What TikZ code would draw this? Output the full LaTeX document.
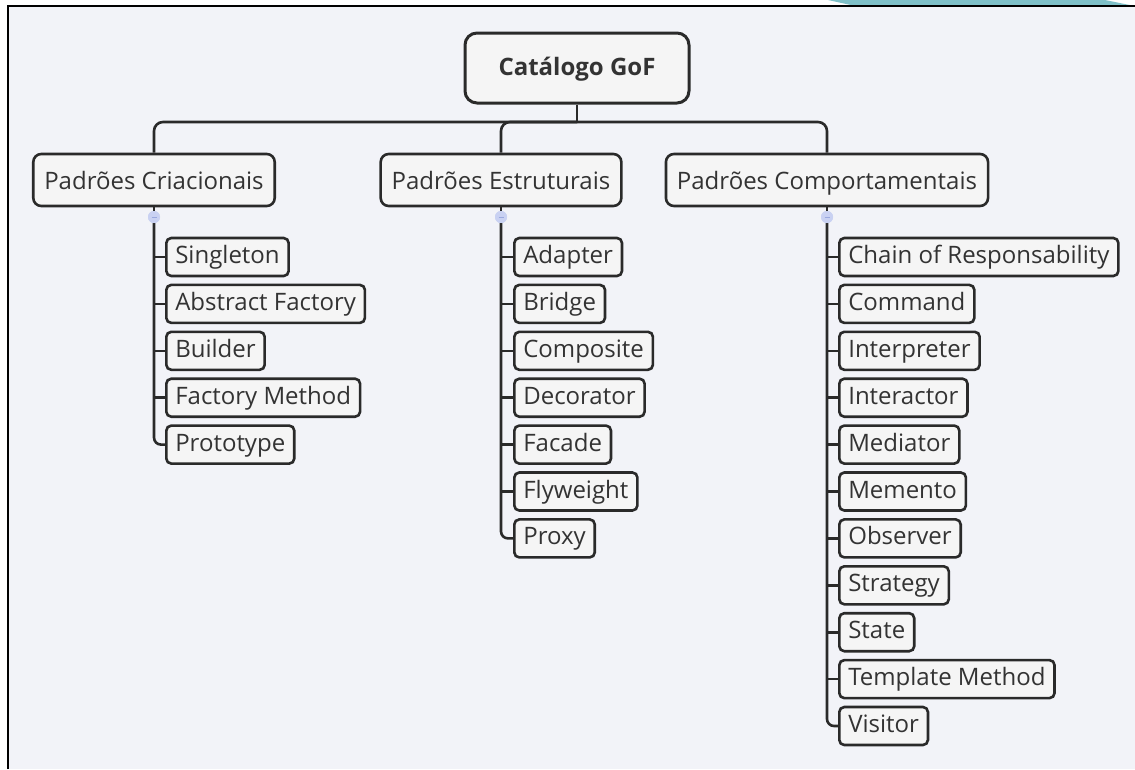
\documentclass[tikz,border=0pt]{standalone}
\usepackage{fontspec}
\setmainfont{Open Sans}
\usetikzlibrary{calc}
\definecolor{bg}{HTML}{F2F3F8}
\definecolor{boxfill}{HTML}{F5F5F5}
\definecolor{ink}{HTML}{2A2A2A}
\definecolor{txt}{HTML}{333333}
\definecolor{tealc}{HTML}{7FC0C8}
\definecolor{knobc}{HTML}{C9D1F2}
\definecolor{knobd}{HTML}{9AA8DE}
\tikzset{
  basebox/.style={draw=ink, line width=2.6pt, fill=boxfill, text=txt, inner ysep=0pt},
  leaf/.style={basebox, rounded corners=5pt, anchor=west, minimum height=38pt, inner xsep=9pt, text height=18pt, text depth=5pt, font=\fontsize{24}{28}\selectfont},
  cat/.style={basebox, rounded corners=8pt, minimum height=52pt, inner xsep=11pt, text height=20pt, text depth=2pt, font=\fontsize{24}{28}\selectfont},
  rootbox/.style={basebox, line width=3pt, rounded corners=12pt, minimum height=70pt, minimum width=224pt, text height=18pt, text depth=4pt, font=\fontsize{24}{28}\selectfont\bfseries},
  conn/.style={draw=ink, line width=2.6pt},
  knob/.style={circle, fill=knobc, minimum size=12pt, inner sep=0pt},
}
\begin{document}
\begin{tikzpicture}[x=1pt,y=-1pt]
\useasboundingbox (0,0) rectangle (1135,769);
\fill[white] (0,0) rectangle (1135,769);
\fill[bg] (8,6) rectangle (1135,769);
\fill[tealc] (828,0) -- (853,5.5) -- (1132,5.5) -- (1105,0) -- cycle;
\draw[black, line width=2pt] (8,769) -- (8,6) -- (1135,6);

% root
\node[rootbox] (root) at (577,68) {Catálogo GoF};
\coordinate (bus) at (577,122);

% categories
\node[cat] (c1) at (154,180) {Padrões Criacionais};
\node[cat] (c2) at (501,180) {Padrões Estruturais};
\node[cat] (c3) at (827,180) {Padrões Comportamentais};

\draw[conn] (root.south) -- (bus);
\draw[conn, rounded corners=9pt] (bus) -| (c1.north);
\draw[conn, rounded corners=9pt] (bus) -| (c2.north);
\draw[conn, rounded corners=9pt] (bus) -| (c3.north);

% knobs
\node[knob] (k1) at (154,217) {};
\node[knob] (k2) at (501,217) {};
\node[knob] (k3) at (827,217) {};

% Criacionais
\node[leaf] (a1) at (165,257) {Singleton};
\node[leaf] (a2) at (165,303.9) {Abstract Factory};
\node[leaf] (a3) at (165,350.8) {Builder};
\node[leaf] (a4) at (165,397.7) {Factory Method};
\node[leaf] (a5) at (165,444.6) {Prototype};

% Estruturais
\node[leaf] (b1) at (513,257) {Adapter};
\node[leaf] (b2) at (513,303.9) {Bridge};
\node[leaf] (b3) at (513,350.8) {Composite};
\node[leaf] (b4) at (513,397.7) {Decorator};
\node[leaf] (b5) at (513,444.6) {Facade};
\node[leaf] (b6) at (513,491.5) {Flyweight};
\node[leaf] (b7) at (513,538.4) {Proxy};

% Comportamentais
\node[leaf] (d1) at (838,257) {Chain of Responsability};
\node[leaf] (d2) at (838,303.9) {Command};
\node[leaf] (d3) at (838,350.8) {Interpreter};
\node[leaf] (d4) at (838,397.7) {Interactor};
\node[leaf] (d5) at (838,444.6) {Mediator};
\node[leaf] (d6) at (838,491.5) {Memento};
\node[leaf] (d7) at (838,538.4) {Observer};
\node[leaf] (d8) at (838,585.3) {Strategy};
\node[leaf] (d9) at (838,632.2) {State};
\node[leaf] (d10) at (838,679.1) {Template Method};
\node[leaf] (d11) at (838,726) {Visitor};

% trunks
\draw[conn] (c1.south) -- (k1.center);
\draw[conn] (c2.south) -- (k2.center);
\draw[conn] (c3.south) -- (k3.center);
\draw[conn, rounded corners=7pt] (k1.south) |- (a5.west);
\draw[conn, rounded corners=7pt] (k2.south) |- (b7.west);
\draw[conn, rounded corners=7pt] (k3.south) |- (d11.west);
\foreach \n in {a1,a2,a3,a4} \draw[conn] (\n.west -| k1) -- (\n.west);
\foreach \n in {b1,b2,b3,b4,b5,b6} \draw[conn] (\n.west -| k2) -- (\n.west);
\foreach \n in {d1,d2,d3,d4,d5,d6,d7,d8,d9,d10} \draw[conn] (\n.west -| k3) -- (\n.west);

% knobs on top
\foreach \k in {k1,k2,k3} {
  \fill[knobc] (\k) circle (6pt);
  \draw[knobd, line width=0.8pt] ($(\k)+(-2.5,0)$) -- ($(\k)+(2.5,0)$);
}
\end{tikzpicture}
\end{document}
